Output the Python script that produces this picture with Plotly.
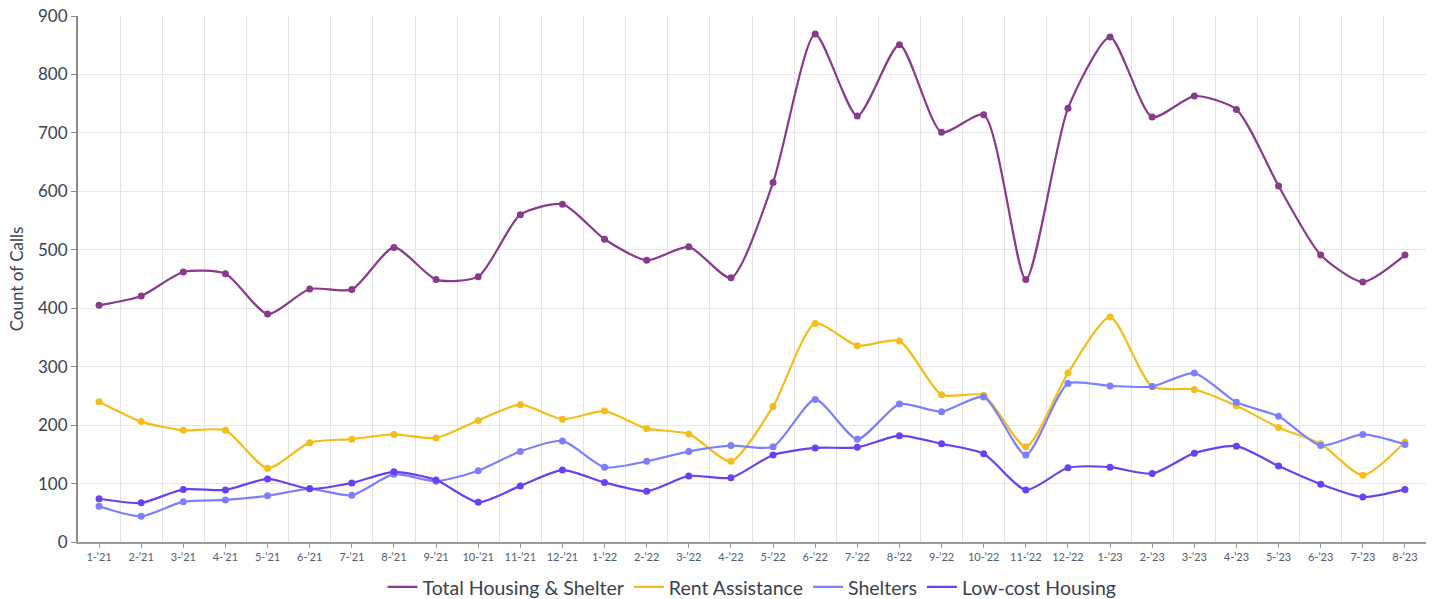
import plotly.graph_objects as go

months = ["1-’21","2-’21","3-’21","4-’21","5-’21","6-’21","7-’21","8-’21","9-’21","10-’21","11-’21","12-’21",
          "1-’22","2-’22","3-’22","4-’22","5-’22","6-’22","7-’22","8-’22","9-’22","10-’22","11-’22","12-’22",
          "1-’23","2-’23","3-’23","4-’23","5-’23","6-’23","7-’23","8-’23"]

total_housing = [405, 421, 462, 459, 390, 433, 432, 504, 449, 454, 560, 578,
                 518, 482, 505, 452, 615, 869, 729, 851, 701, 731, 449, 742,
                 864, 727, 763, 740, 609, 491, 445, 491]
rent_assistance = [240, 206, 191, 191, 126, 170, 176, 184, 178, 208, 235, 210,
                   224, 194, 185, 138, 232, 374, 336, 344, 252, 251, 163, 289,
                   385, 266, 261, 233, 196, 168, 114, 171]
shelters = [61, 44, 69, 72, 79, 91, 80, 116, 104, 122, 155, 173,
            128, 138, 155, 165, 163, 244, 176, 236, 223, 248, 149, 271,
            267, 266, 289, 239, 215, 165, 184, 167]
low_cost = [74, 67, 90, 89, 108, 91, 101, 120, 106, 68, 96, 123,
            102, 87, 113, 110, 149, 161, 162, 182, 168, 151, 89, 127,
            128, 117, 152, 164, 130, 99, 77, 90]

series = [
    ("Total Housing & Shelter", total_housing, "#8a3a8c"),
    ("Rent Assistance", rent_assistance, "#f4bd1a"),
    ("Shelters", shelters, "#7d80fc"),
    ("Low-cost Housing", low_cost, "#6a40f4"),
]

x_idx = list(range(len(months)))

fig = go.Figure()
for name, vals, color in series:
    fig.add_trace(go.Scatter(
        x=x_idx, y=vals, name=name, mode="lines", legendgroup=name,
        line=dict(color=color, width=2.2, shape="spline", smoothing=0.65),
        hoverinfo="skip",
    ))
    fig.add_trace(go.Scatter(
        x=x_idx, y=vals, name=name, mode="markers", legendgroup=name,
        showlegend=False,
        marker=dict(color=color, size=7),
    ))

fig.update_layout(
    width=1434, height=599,
    margin=dict(l=78, r=8, t=16, b=57, autoexpand=False),
    plot_bgcolor="white", paper_bgcolor="white",
    font=dict(family="Lato, 'Open Sans', sans-serif", color="#3a4250"),
    legend=dict(orientation="h", x=0.5, xanchor="center", y=-0.086, yanchor="middle",
                font=dict(size=19.5, color="#3a4250"), itemwidth=30, tracegroupgap=0),
    showlegend=True,
)

fig.update_xaxes(
    automargin=False,
    range=[-0.5, len(months) - 0.5],
    tickmode="array", tickvals=x_idx, ticktext=months,
    tickfont=dict(size=11, color="#555b66"),
    showgrid=False,
    showline=True, linecolor="#9a9a9a", linewidth=1.5,
    ticks="outside", ticklen=4, tickcolor="#9a9a9a",
    minor=dict(tick0=0.5, dtick=1, showgrid=True, gridcolor="#e3e3e3", gridwidth=1, ticks=""),
    zeroline=False,
    ticklabeloverflow="allow",
)
fig.update_yaxes(
    automargin=False,
    range=[0, 900], dtick=100,
    tickfont=dict(size=17, color="#3a4250"),
    showgrid=True, gridcolor="#e6e6e6", gridwidth=1,
    showline=True, linecolor="#8a8a8a", linewidth=2,
    ticks="outside", ticklen=5, tickcolor="#8a8a8a",
    zeroline=False,
    ticklabeloverflow="allow",
    title=dict(text="Count of Calls", font=dict(size=17, color="#3a4250"), standoff=10),
)

# remove the default page margin so the figure sits at the window's top-left corner
fig.write_html("out.html", config={"displayModeBar": False},
               post_script="document.body.style.margin='0';")
